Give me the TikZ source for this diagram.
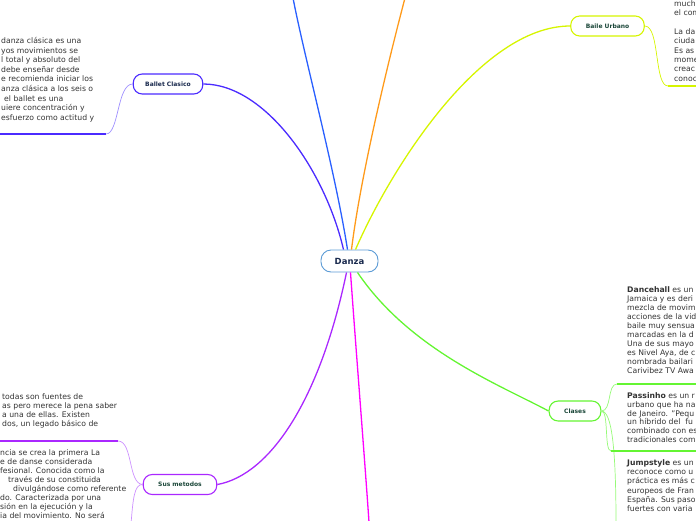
\documentclass[tikz,border=0pt]{standalone}
\usepackage{fontspec}
\setmainfont{DejaVu Sans}
\usetikzlibrary{calc,positioning}
\definecolor{DzBlue}{RGB}{91,155,213}
\definecolor{DzNavy}{RGB}{26,42,78}
\definecolor{DzTeal}{RGB}{28,72,58}
\definecolor{DzViolet}{RGB}{75,43,255}
\definecolor{DzVioletLt}{RGB}{160,145,255}
\definecolor{DzRoyal}{RGB}{42,96,255}
\definecolor{DzOrange}{RGB}{255,154,26}
\definecolor{DzLime}{RGB}{214,245,0}
\definecolor{DzGreen}{RGB}{100,245,50}
\definecolor{DzGreenLt}{RGB}{150,250,120}
\definecolor{DzMagenta}{RGB}{255,0,255}
\definecolor{DzPurple}{RGB}{170,40,255}
\definecolor{DzPurpleLt}{RGB}{205,145,255}
\definecolor{DzText}{RGB}{51,51,51}
\begin{document}
\begin{tikzpicture}[x=1pt,y=-1pt,
  hub/.style={draw=DzBlue,line width=0.9pt,rounded corners=10pt,fill=white,minimum width=57pt,minimum height=22pt,font=\fontsize{8.5}{10}\selectfont\bfseries,text=DzNavy},
  topic/.style={draw,line width=1.1pt,rounded corners=9pt,fill=white,minimum height=20pt,inner xsep=15pt,font=\fontsize{6}{7}\selectfont\bfseries,text=DzTeal},
  branch/.style={line width=1.3pt},
  twig/.style={line width=0.7pt},
  uline/.style={line width=2pt},
  para/.style={anchor=base west,inner sep=0pt,align=left,text=DzText,font=\fontsize{7.7}{#1}\selectfont}]
\useasboundingbox (0,0) rectangle (696,520);
\clip (0,0) rectangle (696,520);
\coordinate (topBlue) at (293,-2);\coordinate (topOrange) at (405,-2);\coordinate (botMagenta) at (369,522);
% central topic and main topics
\node[hub] (danza) at (349.5,261) {Danza};
\node[topic,draw=DzViolet,text=DzNavy,inner xsep=12pt] (ballet) at (168,84) {Ballet Clasico};
\node[topic,draw=DzLime] (urbano) at (607.5,26) {Baile Urbano};
\node[topic,draw=DzGreen] (clases) at (575,411) {Clases};
\node[topic,draw=DzPurple] (metodos) at (180,484.5) {Sus metodos};
% main branches
\draw[branch,DzRoyal] ($(danza.north)+(-2,0)$) .. controls (335,170) and (305,60) .. (topBlue);
\draw[branch,DzOrange] ($(danza.north)+(2,0)$) .. controls (360,180) and (386,70) .. (topOrange);
\draw[branch,DzViolet] ($(danza.north)+(-6,0)$) .. controls (325,170) and (265,84) .. (ballet.east);
\draw[branch,DzLime] ($(danza.north)+(6,0)$) .. controls (390,170) and (480,26) .. (urbano.west);
\draw[branch,DzGreen] ($(danza.south)+(8,0)$) .. controls (410,350) and (500,385) .. (clases.west);
\draw[branch,DzMagenta] ($(danza.south)+(1,0)$) .. controls (356,350) and (364,450) .. (botMagenta);
\draw[branch,DzPurple] ($(danza.south)+(-3,0)$) .. controls (320,400) and (270,475) .. (metodos.east);
% Ballet Clasico (text nodes sit on their last baseline)
\coordinate (ulBa) at (0,134);\coordinate (ulBb) at (106,134);
\draw[twig,DzVioletLt] (ballet.west) .. controls (117,84) and (119,134) .. (ulBb);
\draw[uline,DzViolet] (ulBa) -- (ulBb);
\node[para=9.6] (txtBallet) at (1,120.3) {danza clásica es una\\ yos movimientos se\\ l total y absoluto del\\ debe enseñar desde\\ e recomienda iniciar los\\ anza clásica a los seis o\\ \hspace*{3pt}el ballet es una\\ uiere concentración y\\ esfuerzo como actitud y};
% Baile Urbano
\coordinate (ulUa) at (668,86);\coordinate (ulUb) at (698,86);
\draw[twig,DzLime] (urbano.east) .. controls (660,26) and (654,86) .. (ulUa);
\draw[uline,DzLime] (ulUa) -- (ulUb);
\node[para=9.4] (txtUrbano) at (674,81.3) {much\\ el com\\[9.4pt] La da\\ ciuda\\ Es as\\ mome\\ creac\\ conoc};
% Sus metodos
\coordinate (ulMa) at (0,441);\coordinate (ulMb) at (118,441);\coordinate (downM) at (131,524);
\draw[twig,DzPurpleLt] (metodos.west) .. controls (128,484) and (133,441) .. (ulMb);
\draw[twig,DzPurpleLt] (metodos.west) .. controls (134,484) and (133,500) .. (downM);
\draw[uline,DzPurple] (ulMa) -- (ulMb);
\node[para=9] (txtMetA) at (2,426.5) {todas son fuentes de\\ as pero merece la pena saber\\ a una de ellas. Existen\\ dos, un legado básico de};
\node[para=9] (txtMetB) at (0,518.5) {ncia se crea la primera La\\ e de danse considerada\\ fesional. Conocida como la\\ \hspace*{8pt}través de su constituida\\ \hspace*{13pt}divulgándose como referente\\ do. Caracterizada por una\\ sión en la ejecución y la\\ ia del movimiento. No será};
% Clases
\coordinate (ulDa) at (617,384);\coordinate (ulDb) at (698,384);
\coordinate (ulPa) at (611,451);\coordinate (ulPb) at (698,451);\coordinate (downC) at (616,524);
\draw[twig,DzGreenLt] (clases.east) .. controls (612,411) and (607,384) .. (ulDa);
\draw[twig,DzGreenLt] (clases.east) .. controls (609,411) and (604,451) .. (ulPa);
\draw[twig,DzGreenLt] (clases.east) .. controls (612,411) and (616,450) .. (downC);
\draw[uline,DzGreen] (ulDa) -- (ulDb);
\draw[uline,DzGreen] (ulPa) -- (ulPb);
\node[para=9] (txtDance) at (627,373.5) {\textbf{Dancehall} es un\\ Jamaica y es deri\\ mezcla de movim\\ acciones de la vid\\ baile muy sensua\\ marcadas en la d\\ Una de sus mayo\\ es Nivel Aya, de c\\ nombrada bailari\\ Carivibez TV Awa};
\node[para=8.8] (txtPass) at (627,442.5) {\textbf{Passinho} es un r\\ urbano que ha na\\ de Janeiro. "Pequ\\ un híbrido del\ \ fu\\ combinado con es\\ tradicionales com};
\node[para=9.2] (txtJump) at (627,511.5) {\textbf{Jumpstyle} es un\\ reconoce como u\\ práctica es más c\\ europeos de Fran\\ España. Sus paso\\ fuertes con varia};
\end{tikzpicture}
\end{document}
